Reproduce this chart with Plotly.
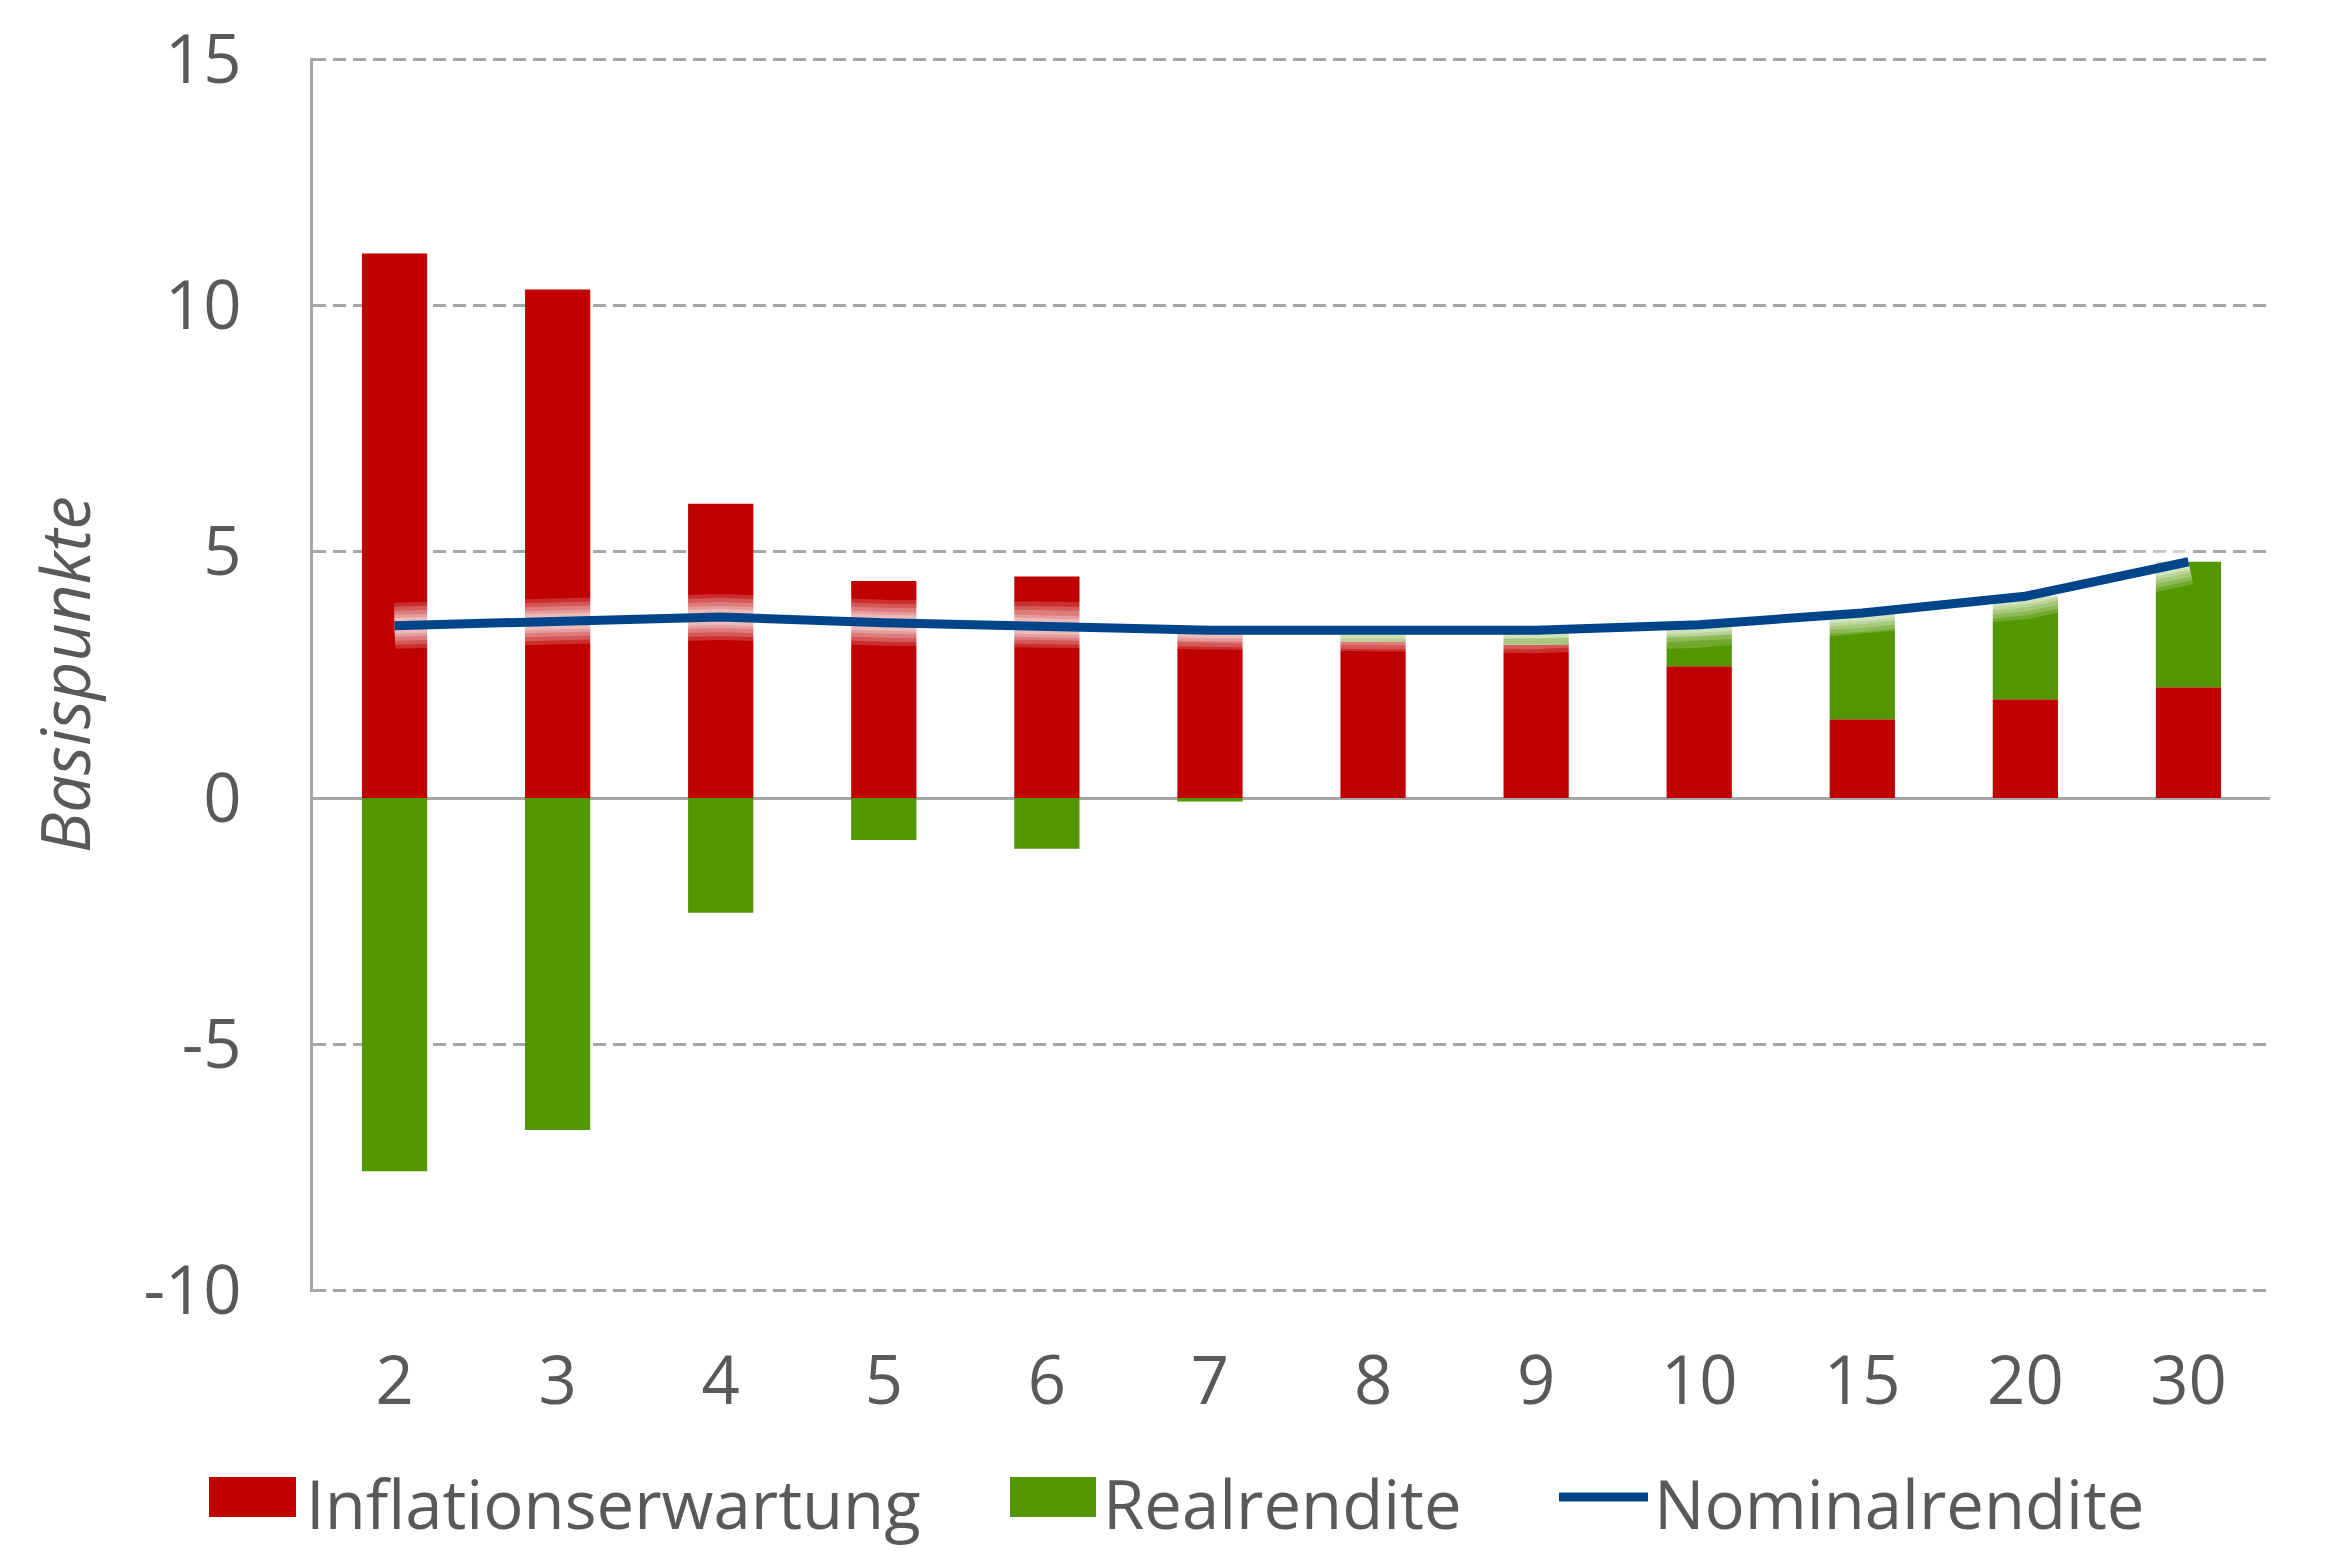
import plotly.graph_objects as go

categories = ["2", "3", "4", "5", "6", "7", "8", "9", "10", "15", "20", "30"]
inflation = [11.06, 10.33, 5.98, 4.41, 4.50, 3.48, 3.18, 3.12, 2.68, 1.60, 2.01, 2.25]
real = [-7.58, -6.74, -2.33, -0.85, -1.03, -0.07, 0.23, 0.29, 0.85, 2.16, 2.09, 2.55]
nominal = [3.50, 3.60, 3.68, 3.56, 3.47, 3.41, 3.41, 3.41, 3.52, 3.76, 4.10, 4.80]
y_ticks = [-10, -5, 0, 5, 10, 15]
y_tick_labels = ["-10", "-5", "0", "5", "10", "15"]

RED = "#C00000"
GREEN = "#529600"
BLUE = "#00448A"
TXT = "#595959"
GRID = "#A6A6A6"
FONT = "Open Sans"
FS = 67

W, H = 2339, 1560
L, R, T, B = 313, 69, 58, 268

fig = go.Figure()
fig.add_trace(go.Bar(x=categories, y=inflation, name="Inflationserwartung",
                     marker=dict(color=RED, line=dict(width=0)), showlegend=False))
fig.add_trace(go.Bar(x=categories, y=real, name="Realrendite",
                     marker=dict(color=GREEN, line=dict(width=0)), showlegend=False))
# soft white glow around the nominal line (layered translucent strokes)
for gw, ga in [(46, 0.18), (38, 0.2), (30, 0.22), (22, 0.25), (16, 0.3)]:
    fig.add_trace(go.Scatter(x=categories, y=nominal, mode="lines", hoverinfo="skip",
                             line=dict(color=f"rgba(255,255,255,{ga})", width=gw,
                                       shape="linear"),
                             showlegend=False))
fig.add_trace(go.Scatter(x=categories, y=nominal, mode="lines", name="Nominalrendite",
                         line=dict(color=BLUE, width=9), showlegend=False))

fig.update_layout(
    width=W, height=H,
    margin=dict(l=L, r=R, t=T, b=B),
    barmode="relative", bargap=0.6,
    plot_bgcolor="white", paper_bgcolor="white",
    font=dict(family=FONT, color=TXT, size=FS),
)
fig.update_xaxes(type="category", range=[-0.5, 11.5], showgrid=False, showline=False,
                 zeroline=False, ticks="", tickfont=dict(size=FS, color=TXT),
                 ticklabelstandoff=44)
fig.update_yaxes(range=[-10.03, 15.03], tickvals=y_ticks, ticktext=y_tick_labels,
                 showgrid=True, gridcolor=GRID, griddash="13px,7px", gridwidth=3,
                 showline=True, linecolor=GRID, linewidth=3,
                 zeroline=True, zerolinecolor=GRID, zerolinewidth=3, ticks="",
                 tickfont=dict(size=FS, color=TXT), ticklabelstandoff=55)

pw = W - L - R
ph = H - T - B
def px(xp):
    return (xp - L) / pw
def py(yp):
    return (H - B - yp) / ph

# y-axis title
fig.add_annotation(text="<i>Basispunkte</i>", xref="paper", yref="paper",
                   x=px(64), y=0.5, xanchor="center", yanchor="middle",
                   textangle=-90, showarrow=False, font=dict(size=FS, color=TXT))

# manual legend
legend_items = [
    ("rect", RED, 209, 296, "Inflationserwartung", 304),
    ("rect", GREEN, 1010, 1096, "Realrendite", 1101),
    ("line", BLUE, 1559, 1648, "Nominalrendite", 1652),
]
ly0, ly1, lyc = 1477, 1517, 1497
for kind, col, x0, x1, label, tx in legend_items:
    if kind == "rect":
        fig.add_shape(type="rect", xref="paper", yref="paper",
                      x0=px(x0), x1=px(x1), y0=py(ly1), y1=py(ly0),
                      fillcolor=col, line=dict(width=0))
    else:
        fig.add_shape(type="line", xref="paper", yref="paper",
                      x0=px(x0), x1=px(x1), y0=py(lyc), y1=py(lyc),
                      line=dict(color=col, width=9))
    fig.add_annotation(text=label, xref="paper", yref="paper", x=px(tx), y=py(lyc + 6),
                       xanchor="left", yanchor="middle", showarrow=False,
                       font=dict(size=FS, color=TXT))

fig.write_html("out.html", config={"displayModeBar": False},
               post_script="document.body.style.margin='0';")
